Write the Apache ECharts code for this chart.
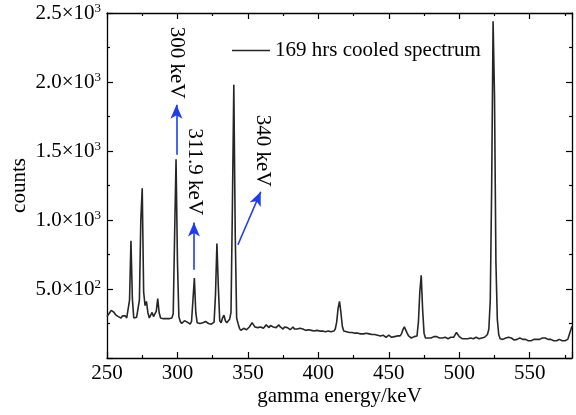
<!DOCTYPE html>
<html><head><meta charset="utf-8">
<script src="https://cdn.jsdelivr.net/npm/echarts@6/dist/echarts.min.js"></script>
<style>html,body{margin:0;padding:0;background:#fff}#c{width:576px;height:415px}</style>
</head><body><div id="c"></div>
<script>
// Channel axis: energies from 250 keV to 580 keV in 1 keV steps
const energyStart = 250;
const energyStep = 1;
// counts, one per keV channel (250..580)
const counts = [
300,315,330,345,350,330,315,320,300,295, // 250-259
290,305,300,305,290,285,420,850,430,290, // 260-269
280,295,285,420,1000,1230,480,380,410,330, // 270-279
290,310,330,300,295,340,430,330,290,280, // 280-289
285,290,285,280,285,280,290,320,900,1440, // 290-299
700,300,265,250,260,270,275,260,250,245, // 300-309
265,420,580,330,255,245,250,260,255,250, // 310-319
265,255,250,260,245,250,260,460,830,520, // 320-329
270,255,290,310,270,255,260,280,330,1100, // 330-339
1980,900,290,250,215,200,205,215,210,205, // 340-349
210,225,235,255,240,225,215,220,215,225, // 350-359
230,215,225,240,230,220,235,245,225,215, // 360-369
220,230,240,225,215,210,225,235,220,210, // 370-379
205,215,225,210,200,210,220,215,205,210, // 380-389
215,200,195,205,215,200,190,195,205,200, // 390-399
190,195,205,195,185,190,200,195,185,190, // 400-409
200,195,210,260,360,410,330,230,195,185, // 410-419
190,180,185,195,185,175,180,190,180,170, // 420-429
175,185,175,170,180,185,175,165,170,180, // 430-439
170,160,165,170,160,155,165,160,150,160, // 440-449
165,155,150,160,155,150,160,155,160,175, // 450-459
205,225,215,180,160,150,145,150,155,150, // 460-469
160,260,480,600,350,180,145,140,145,150, // 470-479
145,150,155,145,155,150,145,150,145,140, // 480-489
150,145,140,145,150,145,150,160,185,180, // 490-499
155,145,140,145,140,145,140,135,145,150, // 500-509
140,145,150,145,140,150,145,155,150,160, // 510-519
170,210,420,1250,2440,1900,700,280,170,140, // 520-529
145,135,140,145,140,150,155,145,135,130, // 530-539
125,135,140,145,140,135,130,135,130,125, // 540-549
130,125,130,135,130,135,140,135,140,145, // 550-559
140,145,140,135,130,135,130,125,130,125, // 560-569
130,135,130,125,130,125,130,135,140,200, // 570-579
230 // 580
];
const seriesName = '169 hrs cooled spectrum';
const xTickValues = [250, 300, 350, 400, 450, 500, 550];
const yTickValues = [500, 1000, 1500, 2000, 2500];
const yTickMantissas = ['5.0', '1.0', '1.5', '2.0', '2.5'];
const yTickExponents = ['2', '3', '3', '3', '3'];
// annotations (data coordinates: keV, counts)
const annotationTexts = ['300 keV', '311.9 keV', '340 keV'];
const annotationTextAt = [[299.6, 2140], [312.4, 1350], [360.5, 1502]];
const arrowFrom = [[299.3, 1473], [311.7, 640], [342.9, 821]];
const arrowTo = [[299.3, 1836], [311.7, 981], [359.1, 1205]];

const data = counts.map((c, i) => [energyStart + i * energyStep, c]);
const FONT = '"Liberation Serif", "Times New Roman", serif';

const chart = echarts.init(document.getElementById('c'), null, {renderer: 'canvas'});
const axisCommon = {
  axisLine: {show: true, onZero: false, lineStyle: {color: '#000', width: 1.3}},
  axisTick: {show: true, inside: true, length: 6, lineStyle: {color: '#000', width: 1.2}},
  minorTick: {show: true, splitNumber: 2, length: 3, lineStyle: {color: '#000', width: 1.2}},
  splitLine: {show: false}
};
const yLabelFormatter = v => {
  const i = yTickValues.indexOf(v);
  if (i < 0) return '';
  return yTickMantissas[i] + '×10{s|' + yTickExponents[i] + '}';
};
const option = {
  animation: false,
  backgroundColor: '#fff',
  grid: {left: 107, right: 4, top: 13, bottom: 57, containLabel: false, outerBoundsMode: 'none'},
  legend: {
    data: [seriesName], left: 227, top: 35, icon: 'rect', itemWidth: 38, itemHeight: 1.5,
    itemGap: 5,
    textStyle: {fontFamily: FONT, fontSize: 21, color: '#000'},
    selectedMode: false
  },
  xAxis: [
    Object.assign({}, axisCommon, {
      type: 'value', min: 250, max: 580, interval: 50, position: 'bottom',
      name: 'gamma energy/keV', nameLocation: 'middle', nameGap: 28, nameMoveOverlap: false,
      nameTextStyle: {fontFamily: FONT, fontSize: 21, color: '#000'},
      axisLabel: {fontFamily: FONT, fontSize: 21, color: '#000', margin: 5, showMaxLabel: false,
        formatter: v => xTickValues.indexOf(v) >= 0 ? String(v) : ''}
    }),
    Object.assign({}, axisCommon, {
      type: 'value', min: 250, max: 580, interval: 50, position: 'top', axisLabel: {show: false}
    })
  ],
  yAxis: [
    Object.assign({}, axisCommon, {
      type: 'value', min: 0, max: 2500, interval: 500, position: 'left',
      name: 'counts', nameLocation: 'middle', nameGap: 77, nameRotate: 90, nameMoveOverlap: false,
      nameTextStyle: {fontFamily: FONT, fontSize: 21, color: '#000'},
      axisLabel: {
        fontFamily: FONT, fontSize: 21, color: '#000', margin: 6, showMinLabel: false,
        formatter: yLabelFormatter,
        rich: {s: {fontFamily: FONT, fontSize: 13, color: '#000', verticalAlign: 'top', padding: [0, 0, 8, 0]}}
      }
    }),
    Object.assign({}, axisCommon, {
      type: 'value', min: 0, max: 2500, interval: 500, position: 'right', axisLabel: {show: false}
    })
  ],
  series: [{
    name: seriesName, type: 'line', data: data, showSymbol: false, symbol: 'none',
    xAxisIndex: 0, yAxisIndex: 0,
    lineStyle: {color: '#262626', width: 1.6}, itemStyle: {color: '#262626'},
    markLine: {
      silent: true, symbol: ['none', 'arrow'], symbolSize: [9, 14],
      label: {show: false},
      lineStyle: {color: '#1f3cf0', width: 1.6, type: 'solid'},
      data: arrowFrom.map((f, i) => [{coord: f}, {coord: arrowTo[i]}])
    }
  }]
};
chart.setOption(option);
const texts = annotationTexts.map((t, i) => {
  const p = chart.convertToPixel({xAxisIndex: 0, yAxisIndex: 0}, annotationTextAt[i]);
  return {
    type: 'text', x: p[0], y: p[1], rotation: -Math.PI / 2, silent: true,
    style: {text: t, font: '21px ' + FONT, fill: '#000', align: 'center', verticalAlign: 'middle',
      textAlign: 'center', textVerticalAlign: 'middle'}
  };
});
chart.setOption({graphic: texts});
</script></body></html>
